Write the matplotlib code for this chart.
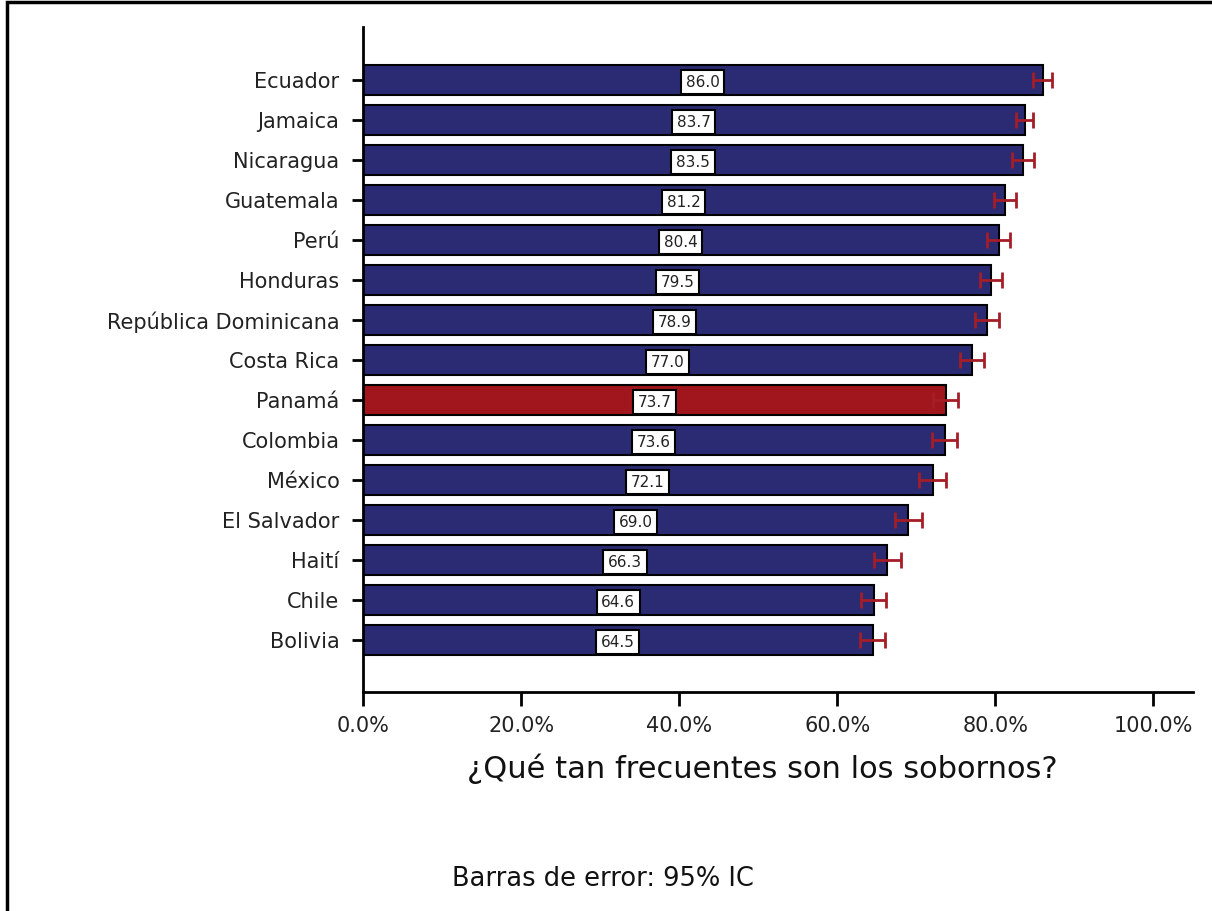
import numpy as np
import matplotlib.pyplot as plt
from matplotlib.patches import Rectangle

# datos (porcentaje que dice que los sobornos son frecuentes)
paises = ['Ecuador', 'Jamaica', 'Nicaragua', 'Guatemala', 'Perú', 'Honduras',
          'República Dominicana', 'Costa Rica', 'Panamá', 'Colombia', 'México',
          'El Salvador', 'Haití', 'Chile', 'Bolivia']
valores = [86.0, 83.7, 83.5, 81.2, 80.4, 79.5, 78.9, 77.0, 73.7, 73.6, 72.1,
           69.0, 66.3, 64.6, 64.5]
ic95 = [1.2, 1.1, 1.4, 1.4, 1.4, 1.4, 1.5, 1.5, 1.6, 1.6, 1.7, 1.7, 1.7, 1.6, 1.6]
resaltar = 'Panamá'

azul = '#2b2b73'
rojo = '#a0161c'

plt.rcParams['font.family'] = ['DejaVu Sans']

fig = plt.figure(figsize=(12.12, 9.11), dpi=100)
ax = fig.add_axes([0.2995, 0.2404, 0.6848, 0.73])

y = np.arange(len(paises))
colores = [rojo if p == resaltar else azul for p in paises]
ax.barh(y, valores, height=0.75, color=colores, edgecolor='black', linewidth=1.5, zorder=2)
ax.errorbar(valores, y, xerr=ic95, fmt='none', ecolor='#a51d26', elinewidth=2,
            capsize=6, capthick=2, zorder=3)

for yi, v in zip(y, valores):
    ax.text(v / 2, yi + 0.05, f'{v:.1f}', ha='center', va='center', fontsize=11,
            color='#222222', zorder=4,
            bbox=dict(boxstyle='square,pad=0.3', fc='white', ec='black', lw=1.5))

ax.set_ylim(len(paises) - 1 + 1.3, -1.33)
ax.set_xlim(0, 105)
ax.set_yticks(y)
ax.set_yticklabels(paises, fontsize=15, color='#222222')
ax.set_xticks([0, 20, 40, 60, 80, 100])
ax.set_xticklabels(['0.0%', '20.0%', '40.0%', '60.0%', '80.0%', '100.0%'],
                   fontsize=15, color='#222222')
ax.tick_params(axis='x', length=10, width=2, pad=7)
ax.tick_params(axis='y', length=8, width=2, pad=9)
ax.spines['top'].set_visible(False)
ax.spines['right'].set_visible(False)
ax.spines['left'].set_linewidth(2)
ax.spines['bottom'].set_linewidth(2)

ax.set_xlabel('¿Qué tan frecuentes son los sobornos?', fontsize=22,
              color='#111111', va='center')
ax.xaxis.set_label_coords((762 - 363) / 830, (692 - 769) / 665)
fig.text(452 / 1212, 1 - 879 / 911, 'Barras de error: 95% IC', fontsize=18.5,
         color='#111111', va='center', ha='left')

# marco exterior
fig.patches.append(Rectangle((6.5 / 1212, -0.05), 1.2, 1 - 2.5 / 911 + 0.05,
                             transform=fig.transFigure, fill=False,
                             edgecolor='black', linewidth=2.5))

fig.savefig('out.png', dpi=100)
